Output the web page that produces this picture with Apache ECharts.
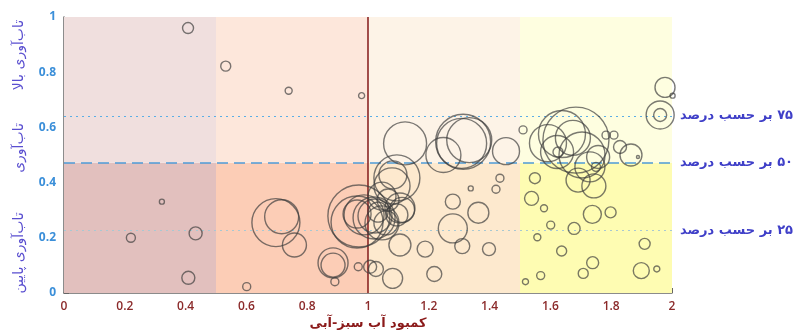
<!DOCTYPE html>
<html>
<head>
<meta charset="utf-8">
<script src="https://cdn.jsdelivr.net/npm/echarts@6/dist/echarts.min.js"></script>
<style>html,body{margin:0;padding:0;background:#fff}#c{width:800px;height:333px}</style>
</head>
<body>
<div id="c"></div>
<script>
// Bubble data (x = green-blue water deficit, y = resilience, size = bubble diameter)
const xVals = [
  0.408,0.322,0.220,0.433,0.409,
  0.532,0.739,0.979,0.601,0.697,0.716,0.758,0.885,0.885,0.891,0.968,1.007,1.026,0.970,0.964,0.987,0.964,1.020,
  1.095,1.079,1.082,1.046,1.105,1.095,1.023,1.046,1.112,1.033,1.066,1.059,
  1.434,1.338,1.421,1.279,1.363,1.279,1.188,1.310,1.398,1.218,1.105,1.081,
  1.122,1.248,1.313,1.333,1.308,1.454,
  1.510,1.592,1.638,1.684,1.674,1.622,1.704,1.730,1.757,1.625,1.783,1.809,1.829,1.865,1.888,1.691,1.743,1.750,1.977,2.002,1.961,1.961,
  1.549,1.538,1.579,1.601,1.557,1.678,1.738,1.798,1.637,1.739,1.708,1.568,1.518,1.910,1.899,1.950
];
const yVals = [
  0.960,0.331,0.200,0.216,0.055,
  0.822,0.733,0.715,0.023,0.255,0.276,0.174,0.109,0.101,0.041,0.095,0.095,0.087,0.279,0.257,0.283,0.286,0.272,
  0.417,0.388,0.428,0.351,0.308,0.283,0.279,0.254,0.301,0.293,0.337,0.254,
  0.416,0.379,0.376,0.331,0.291,0.234,0.159,0.170,0.159,0.069,0.174,0.053,
  0.542,0.500,0.548,0.554,0.542,0.514,
  0.591,0.543,0.576,0.554,0.562,0.511,0.500,0.457,0.493,0.511,0.572,0.572,0.529,0.500,0.493,0.409,0.388,0.457,0.745,0.715,0.645,0.645,
  0.416,0.343,0.307,0.246,0.202,0.234,0.285,0.292,0.152,0.110,0.071,0.063,0.041,0.178,0.081,0.087
];
const sizes = [
  11,5,9,13,13,
  10,7,6,8,48,34,24,30,24,8,8,13,15,62,52,40,28,42,
  46,36,28,28,30,22,34,34,25,20,22,24,
  8,5,8,15,21,29,16,15,13,15,22,20,
  43,35,55,45,50,27,
  8,37,47,66,35,33,46,30,23,10,8,8,13,22,3,24,24,9,20,5,28,13,
  11,14,7,8,7,12,18,11,10,12,10,8,6,11,16,6
];
// Zones (x boundaries) and split level
const zoneX = [0, 0.5, 1, 1.5, 2];
const splitY = 0.472;
const upperColors = ['#f0dfde', '#fde7db', '#fdf3e7', '#fefee0'];
const lowerColors = ['#e2c0be', '#fccdb6', '#fde9ce', '#fefcb2'];
// Percentile reference lines
const pctValues = [0.641, 0.472, 0.226];
const pctLabels = ['\u200F۷۵ بر حسب درصد', '\u200F۵۰ بر حسب درصد', '\u200F۲۵ بر حسب درصد'];
const xAxisName = 'کمبود آب سبز-آبی';
const yNames = ['تاب\u200Cآوری بالا', 'تاب\u200Cآوری', 'تاب\u200Cآوری پایین'];

const data = xVals.map((x, i) => [x, yVals[i], sizes[i]]);

const areas = [];
for (let i = 0; i < 4; i++) {
  areas.push([{ xAxis: zoneX[i], yAxis: 0, itemStyle: { color: lowerColors[i] } }, { xAxis: zoneX[i + 1], yAxis: splitY }]);
  areas.push([{ xAxis: zoneX[i], yAxis: splitY, itemStyle: { color: upperColors[i] } }, { xAxis: zoneX[i + 1], yAxis: 1 }]);
}

const lineStyles = [
  { color: '#5aaee6', width: 1.2, type: [2, 4] },
  { color: '#4d9bd6', width: 1.6, type: [11, 6] },
  { color: '#a8c8d2', width: 1.2, type: [2, 4] }
];
const pctLines = pctValues.map((v, i) => [
  { coord: [0, v], lineStyle: lineStyles[i], label: { show: true, position: 'end', formatter: pctLabels[i], distance: 8, color: '#3f3fc8', fontSize: 13, fontWeight: 'bold', fontFamily: 'DejaVu Sans, sans-serif' } },
  { coord: [2, v] }
]);
pctLines.push([
  { coord: [1, 0], lineStyle: { color: '#8b2525', width: 1.6, type: 'solid' }, label: { show: false } },
  { coord: [1, 1] }
]);

const yNameFont = '14px "DejaVu Sans", sans-serif';
const chart = echarts.init(document.getElementById('c'), null, { renderer: 'canvas' });
chart.setOption({
  animation: false,
  backgroundColor: '#ffffff',
  grid: { left: 64, right: 128, top: 17, bottom: 40, containLabel: false, outerBoundsMode: 'none' },
  xAxis: {
    type: 'value', min: 0, max: 2, interval: 0.2,
    name: xAxisName, nameLocation: 'middle', nameGap: 31, nameMoveOverlap: false,
    nameTextStyle: { color: '#8b1a1a', fontSize: 13, fontWeight: 'bold', fontFamily: 'DejaVu Sans, sans-serif', verticalAlign: 'middle' },
    axisLine: { show: true, lineStyle: { color: '#666', width: 1.5 } },
    axisTick: { show: true, inside: true, length: 5, lineStyle: { color: '#666' } },
    axisLabel: { color: '#8b2a2a', fontSize: 12, fontWeight: 600, margin: 8, showMinLabel: true, showMaxLabel: true, fontFamily: 'Open Sans, sans-serif' },
    splitLine: { show: false }
  },
  yAxis: {
    type: 'value', min: 0, max: 1, interval: 0.2,
    axisLine: { show: true, lineStyle: { color: '#666', width: 1.5 } },
    axisTick: { show: true, inside: true, length: 5, lineStyle: { color: '#666' } },
    minorTick: { show: true, splitNumber: 2, length: 5, lineStyle: { color: '#666' } },
    axisLabel: { color: '#3b8fd9', fontSize: 12, fontWeight: 'bold', margin: 8, showMinLabel: true, showMaxLabel: true, fontFamily: 'Open Sans, sans-serif' },
    splitLine: { show: false }
  },
  graphic: [
    { type: 'text', x: 19, y: 55, rotation: Math.PI / 2, style: { text: yNames[0], fill: '#5a4fd0', font: yNameFont, textAlign: 'center', textVerticalAlign: 'middle' } },
    { type: 'text', x: 19, y: 148, rotation: Math.PI / 2, style: { text: yNames[1], fill: '#5a4fd0', font: yNameFont, textAlign: 'center', textVerticalAlign: 'middle' } },
    { type: 'text', x: 19, y: 253, rotation: Math.PI / 2, style: { text: yNames[2], fill: '#5a4fd0', font: yNameFont, textAlign: 'center', textVerticalAlign: 'middle' } }
  ],
  series: [{
    type: 'scatter',
    data: data,
    clip: false,
    symbol: 'circle',
    symbolSize: d => d[2],
    itemStyle: { color: 'rgba(0,0,0,0)', borderColor: 'rgba(60,60,60,0.85)', borderWidth: 1.4 },
    markArea: { silent: true, data: areas },
    markLine: { silent: true, symbol: 'none', animation: false, data: pctLines },
    z: 5
  }]
});
</script>
</body>
</html>
